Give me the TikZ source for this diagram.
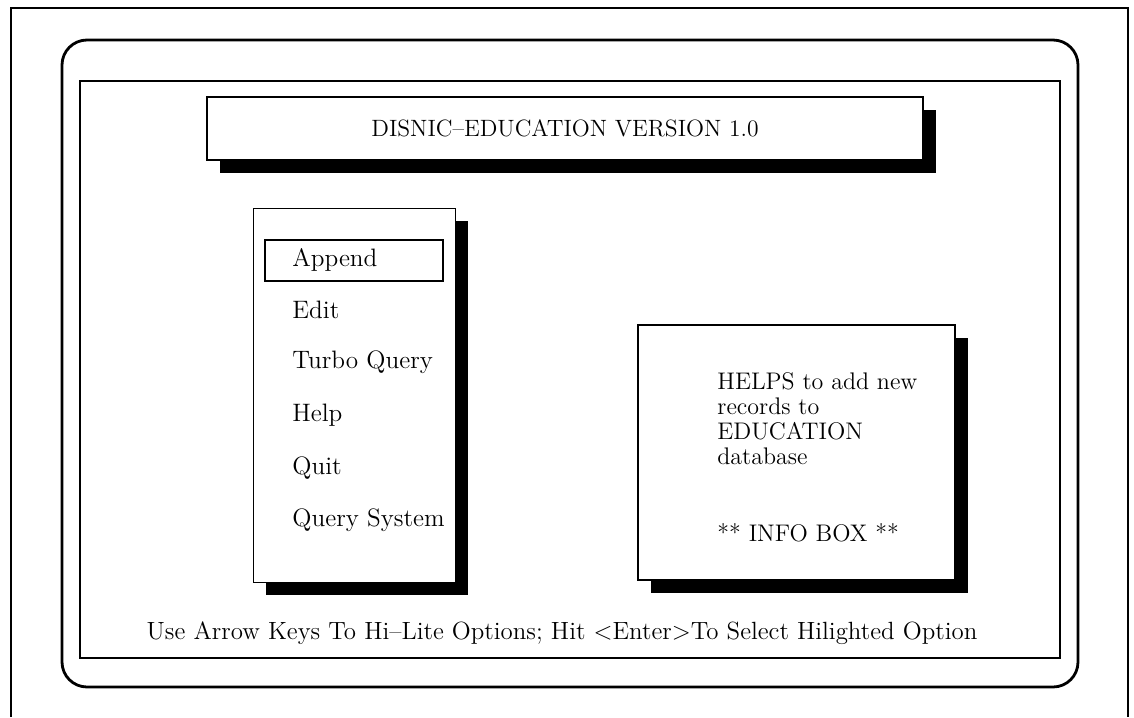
\documentclass[tikz,border=0pt]{standalone}
\usepackage{tikz}
\usetikzlibrary{positioning,shadows}

\begin{document}
\begin{tikzpicture}[x=0.5pt,y=-0.5pt]
\tikzstyle{frame}=[draw=black, line width=1.4pt]
\tikzstyle{win}=[rectangle, draw=black, fill=white, line width=0.6pt, inner sep=0pt]
\tikzstyle{shade}=[drop shadow={fill=black, opacity=1, shadow xshift=6.5pt, shadow yshift=-6.5pt}]
\tikzstyle{txt}=[inner sep=0pt, font=\fontsize{12}{12.5}\selectfont]
\tikzstyle{item}=[txt, anchor=west, text height=8.5pt, text depth=2.5pt, font=\fontsize{12.6}{13}\selectfont]
\useasboundingbox (0,0) rectangle (1134,717);
  % screen frame, cut off at the bottom
  \draw[frame] (11,717) -- (11,8) -- (1128,8) -- (1128,717);
  \draw[frame, rounded corners=12.5pt] (62,40) rectangle (1078,687);
  \draw[frame, line width=1.2pt] (80,81) rectangle (1060,658);
  % title bar
  \node[win, shade, minimum width=358pt, minimum height=31.5pt] (title) at (565,128.5) {};
  \node[txt, font=\fontsize{11.8}{12}\selectfont] (name) at (title) {DISNIC--EDUCATION VERSION 1.0};
  % menu
  \node[win, line width=0.4pt, shade, minimum width=101pt, minimum height=187pt] (menu) at (354,395) {};
  \node[rectangle, draw=black, line width=1pt, minimum width=89pt, minimum height=20.5pt] (hilite) at (354,260.5) {};
  \node[item] (append) at (292,260.5) {Append};
  \node[item, below=26pt of append.west, anchor=west] (edit) {Edit};
  \node[item, below=25pt of edit.west, anchor=west] (turbo) {Turbo Query};
  \node[item, below=26.5pt of turbo.west, anchor=west] (help) {Help};
  \node[item, below=26.5pt of help.west, anchor=west] (quit) {Quit};
  \node[item, below=26pt of quit.west, anchor=west] (query) {Query System};
  % info box
  \node[win, shade, minimum width=158.5pt, minimum height=127.5pt] (info) at (796.5,452.5) {};
  \node[txt, anchor=north west, align=left] (helps) at (717,372) {HELPS to add new\\records to\\EDUCATION\\database};
  \node[txt, anchor=west] (infobox) at (717,533) {** INFO BOX **};
  % key help line
  \node[txt, font=\fontsize{12.45}{13}\selectfont] (keys) at (562,633) {Use Arrow Keys To Hi--Lite Options; Hit <Enter>To Select Hilighted Option};
\end{tikzpicture}
\end{document}
